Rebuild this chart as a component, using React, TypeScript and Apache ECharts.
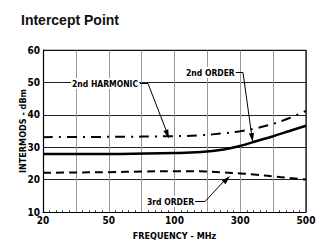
import React, { useEffect, useRef } from "react";
import * as echarts from "echarts";

// x positions are axis units: 0..8 divisions; tick labels below
const xTickLabels = ["20", "", "50", "", "100", "", "300", "", "500"];
const yTicks = [10, 20, 30, 40, 50, 60];

const harmonicX = [0, 2, 4, 4.8, 5.5, 6, 6.5, 7, 7.5, 8];
const harmonicY = [33.1, 33.2, 33.4, 33.7, 34.3, 34.9, 35.9, 37.2, 39.0, 41.2];

const order2X = [0, 2, 4, 4.8, 5.5, 6, 6.5, 7, 7.5, 8];
const order2Y = [27.9, 27.9, 28.2, 28.5, 29.3, 30.4, 31.9, 33.4, 35.0, 36.6];

const order3X = [0, 1, 2, 3, 4, 4.5, 5, 5.5, 6, 6.5, 7, 7.5, 8];
const order3Y = [22.1, 22.2, 22.3, 22.5, 22.6, 22.6, 22.5, 22.2, 21.9, 21.5, 21.0, 20.5, 20.0];

const zip = (xs: number[], ys: number[]) => xs.map((x, i) => [x, ys[i]]);

const FONT = "'DejaVu Sans Condensed', 'Liberation Sans Narrow', sans-serif";

export default function App() {
  const ref = useRef<HTMLDivElement>(null);
  useEffect(() => {
    if (!ref.current) return;
    const chart = echarts.init(ref.current, null, { renderer: "svg" });
    const annText = (x: number, y: number, text: string) => ({
      type: "text",
      x,
      y,
      z: 100,
      style: {
        text,
        fill: "#000",
        font: `bold 8.5px ${FONT}`,
        textVerticalAlign: "middle",
        backgroundColor: "#fff",
        padding: [1, 1],
      },
    });
    const line = (pts: number[][]) => ({
      type: "polyline",
      z: 100,
      shape: { points: pts },
      style: { stroke: "#000", lineWidth: 1, fill: "none" },
    });
    const arrow = (from: number[], tip: number[]) => {
      const dx = tip[0] - from[0];
      const dy = tip[1] - from[1];
      const len = Math.sqrt(dx * dx + dy * dy);
      const ux = dx / len, uy = dy / len;
      const L = 9, W = 2.6;
      const bx = tip[0] - ux * L, by = tip[1] - uy * L;
      return {
        type: "polygon",
        z: 100,
        shape: {
          points: [
            tip,
            [bx - uy * W, by + ux * W],
            [bx + uy * W, by - ux * W],
          ],
        },
        style: { fill: "#000" },
      };
    };
    chart.setOption({
      animation: false,
      backgroundColor: "#fff",
      title: {
        text: "Intercept Point",
        left: 16,
        top: 8,
        textStyle: { fontFamily: "'Liberation Sans', Arial, sans-serif", fontWeight: "bold", fontSize: 14, color: "#111" },
      },
      grid: { left: 43, right: 17, top: 50, bottom: 29 },
      xAxis: {
        type: "value",
        min: 0,
        max: 8,
        interval: 1,
        name: "FREQUENCY - MHz",
        nameLocation: "middle",
        nameGap: 19,
        nameMoveOverlap: false,
        nameTextStyle: { fontFamily: FONT, fontWeight: "bold", fontSize: 9, color: "#000" },
        axisLine: { show: true, lineStyle: { color: "#000", width: 1.2 } },
        axisTick: { show: false, inside: true },
        minorTick: { show: true, splitNumber: 5, length: 2, lineStyle: { color: "#555", width: 1 } },
        axisLabel: {
          formatter: (v: number) => xTickLabels[Math.round(v)] ?? "",
          fontFamily: FONT,
          fontWeight: "bold",
          fontSize: 10,
          color: "#000",
          margin: 3,
        },
        splitLine: { show: true, lineStyle: { color: "#999", width: 1 } },
      },
      yAxis: {
        type: "value",
        min: yTicks[0],
        max: yTicks[yTicks.length - 1],
        interval: 10,
        name: "INTERMODS - dBm",
        nameLocation: "middle",
        nameGap: 16,
        nameMoveOverlap: false,
        nameTextStyle: { fontFamily: FONT, fontWeight: "bold", fontSize: 9, color: "#000" },
        axisLine: { show: true, lineStyle: { color: "#000", width: 1.2 } },
        axisTick: { show: false },
        axisLabel: { fontFamily: FONT, fontWeight: "bold", fontSize: 10, color: "#000", margin: 3 },
        splitLine: { show: true, lineStyle: { color: "#222", width: 1 } },
      },
      series: [
        {
          type: "line",
          data: zip(harmonicX, harmonicY),
          smooth: 0.4,
          showSymbol: false,
          lineStyle: { color: "#000", width: 2, type: [10, 6, 2, 6] },
        },
        {
          type: "line",
          data: zip(order2X, order2Y),
          smooth: 0.4,
          showSymbol: false,
          lineStyle: { color: "#000", width: 2.5, type: "solid" },
        },
        {
          type: "line",
          data: zip(order3X, order3Y),
          smooth: 0.4,
          showSymbol: false,
          lineStyle: { color: "#000", width: 2, type: [8, 5] },
        },
        {
          type: "line",
          data: [[8, 60], [8, 10]],
          showSymbol: false,
          silent: true,
          lineStyle: { color: "#000", width: 1.2 },
        },
        {
          type: "line",
          data: [[0, 60], [8, 60]],
          showSymbol: false,
          silent: true,
          lineStyle: { color: "#000", width: 1.2 },
        },
      ],
      graphic: [
        line([[140, 83.5], [148, 83.5], [166, 130]]),
        arrow([148, 83.5], [169, 138.5]),
        annText(71, 83.5, "2nd HARMONIC"),
        line([[232, 72.5], [243, 72.5], [251.5, 134]]),
        arrow([243, 72.5], [252.7, 142]),
        annText(185, 72.5, "2nd ORDER"),
        line([[193, 201.5], [205, 201.5], [224, 181]]),
        arrow([205, 201.5], [230, 176]),
        annText(146, 201.5, "3rd ORDER"),
      ],
    });
    return () => chart.dispose();
  }, []);
  return <div ref={ref} style={{ width: 323, height: 245, position: "absolute", left: 0, top: 0 }} />;
}
